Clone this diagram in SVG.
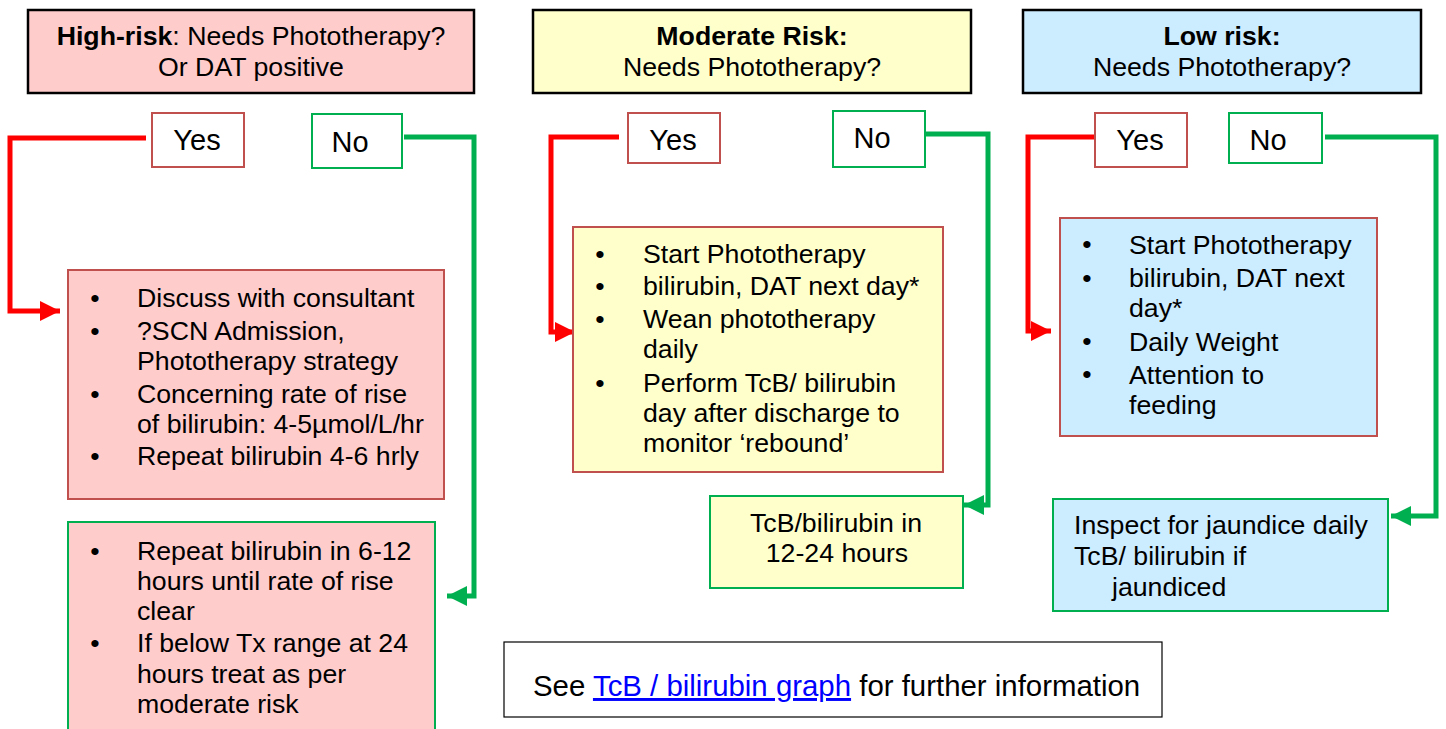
<svg xmlns="http://www.w3.org/2000/svg" width="1446" height="729" viewBox="0 0 1446 729">
<style>
text{font-family:"Liberation Sans",Arial,sans-serif;fill:#000;}
.t{font-size:26.7px;}
.yn{font-size:29px;}
.b{font-weight:bold;}
.hdr{stroke:#000;stroke-width:2.5;}
.rbox{stroke:#C0504D;stroke-width:2;}
.gbox{stroke:#00B050;stroke-width:2;}
.pink{fill:#FFCCCC;}
.yel{fill:#FFFFCC;}
.blue{fill:#CCECFF;}
.wh{fill:#FFFFFF;}
.red{fill:none;stroke:#FF0000;stroke-width:5;}
.grn{fill:none;stroke:#00B050;stroke-width:5;}
</style>
<defs>
<marker id="ar" markerUnits="userSpaceOnUse" markerWidth="20" markerHeight="20" viewBox="0 0 18 18" refX="18" refY="9" orient="auto">
<path d="M0,0 L18,9 L0,18 Z" fill="#FF0000"/>
</marker>
<marker id="ag" markerUnits="userSpaceOnUse" markerWidth="20" markerHeight="20" viewBox="0 0 18 18" refX="18" refY="9" orient="auto">
<path d="M0,0 L18,9 L0,18 Z" fill="#00B050"/>
</marker>
</defs>
<rect width="1446" height="729" fill="#FFFFFF"/>
<g id="connectors">
<path class="red" d="M146,138 H10 V311 H60" marker-end="url(#ar)"/>
<path class="grn" d="M404,137 H474 V596 H447" marker-end="url(#ag)"/>
<path class="red" d="M619,137 H551 V332 H575" marker-end="url(#ar)"/>
<path class="grn" d="M926,134 H988 V505 H964" marker-end="url(#ag)"/>
<path class="red" d="M1095,137 H1028 V331 H1051" marker-end="url(#ar)"/>
<path class="grn" d="M1325,137 H1436 V516 H1391" marker-end="url(#ag)"/>
</g>
<g id="high-header">
<rect class="hdr pink" x="28" y="10" width="446" height="83"/>
<text class="t" x="251" y="45" text-anchor="middle"><tspan class="b">High-risk</tspan>: Needs Phototherapy?</text>
<text class="t" x="251" y="76" text-anchor="middle">Or DAT positive</text>
</g>
<g id="high-yes">
<rect class="rbox wh" x="152" y="113" width="92" height="54"/>
<text class="yn" x="197" y="150" text-anchor="middle">Yes</text>
</g>
<g id="high-no">
<rect class="gbox wh" x="312" y="114" width="90" height="54"/>
<text class="yn" x="350" y="152" text-anchor="middle">No</text>
</g>
<g id="high-yes-action">
<rect class="rbox pink" x="68" y="270" width="376" height="229"/>
<text class="t" x="95" y="307" text-anchor="middle">•</text>
<text class="t" x="95" y="340" text-anchor="middle">•</text>
<text class="t" x="95" y="403" text-anchor="middle">•</text>
<text class="t" x="95" y="465" text-anchor="middle">•</text>
<text class="t" x="137" y="307">Discuss with consultant</text>
<text class="t" x="137" y="340">?SCN Admission,</text>
<text class="t" x="137" y="370">Phototherapy strategy</text>
<text class="t" x="137" y="403">Concerning rate of rise</text>
<text class="t" x="137" y="433">of bilirubin: 4-5µmol/L/hr</text>
<text class="t" x="137" y="465">Repeat bilirubin 4-6 hrly</text>
</g>
<g id="high-no-action">
<rect class="gbox pink" x="68" y="522" width="367" height="220"/>
<text class="t" x="95" y="560" text-anchor="middle">•</text>
<text class="t" x="95" y="652" text-anchor="middle">•</text>
<text class="t" x="137" y="560">Repeat bilirubin in 6-12</text>
<text class="t" x="137" y="590">hours until rate of rise</text>
<text class="t" x="137" y="620">clear</text>
<text class="t" x="137" y="652">If below Tx range at 24</text>
<text class="t" x="137" y="683">hours treat as per</text>
<text class="t" x="137" y="713">moderate risk</text>
</g>
<g id="moderate-header">
<rect class="hdr yel" x="533" y="10" width="438" height="83"/>
<text class="t b" x="752" y="45" text-anchor="middle">Moderate Risk:</text>
<text class="t" x="752" y="76" text-anchor="middle">Needs Phototherapy?</text>
</g>
<g id="moderate-yes">
<rect class="rbox wh" x="628" y="113" width="92" height="50"/>
<text class="yn" x="673" y="150" text-anchor="middle">Yes</text>
</g>
<g id="moderate-no">
<rect class="gbox wh" x="833" y="111" width="92" height="56"/>
<text class="yn" x="872" y="148" text-anchor="middle">No</text>
</g>
<g id="moderate-yes-action">
<rect class="rbox yel" x="573" y="227" width="370" height="245"/>
<text class="t" x="600" y="263" text-anchor="middle">•</text>
<text class="t" x="600" y="295" text-anchor="middle">•</text>
<text class="t" x="600" y="328" text-anchor="middle">•</text>
<text class="t" x="600" y="392" text-anchor="middle">•</text>
<text class="t" x="643" y="263">Start Phototherapy</text>
<text class="t" x="643" y="295">bilirubin, DAT next day*</text>
<text class="t" x="643" y="328">Wean phototherapy</text>
<text class="t" x="643" y="358">daily</text>
<text class="t" x="643" y="392">Perform TcB/ bilirubin</text>
<text class="t" x="643" y="422">day after discharge to</text>
<text class="t" x="643" y="452">monitor ‘rebound’</text>
</g>
<g id="moderate-no-action">
<rect class="gbox yel" x="710" y="496" width="253" height="92"/>
<text class="t" x="836" y="532" text-anchor="middle">TcB/bilirubin in</text>
<text class="t" x="837" y="562" text-anchor="middle">12-24 hours</text>
</g>
<g id="low-header">
<rect class="hdr blue" x="1023" y="10" width="398" height="83"/>
<text class="t b" x="1222" y="45" text-anchor="middle">Low risk:</text>
<text class="t" x="1222" y="76" text-anchor="middle">Needs Phototherapy?</text>
</g>
<g id="low-yes">
<rect class="rbox wh" x="1095" y="113" width="92" height="54"/>
<text class="yn" x="1140" y="150" text-anchor="middle">Yes</text>
</g>
<g id="low-no">
<rect class="gbox wh" x="1229" y="113" width="93" height="50"/>
<text class="yn" x="1268" y="150" text-anchor="middle">No</text>
</g>
<g id="low-yes-action">
<rect class="rbox blue" x="1060" y="218" width="317" height="218"/>
<text class="t" x="1087" y="253" text-anchor="middle">•</text>
<text class="t" x="1087" y="287" text-anchor="middle">•</text>
<text class="t" x="1087" y="350" text-anchor="middle">•</text>
<text class="t" x="1087" y="383" text-anchor="middle">•</text>
<text class="t" x="1129" y="254">Start Phototherapy</text>
<text class="t" x="1129" y="287">bilirubin, DAT next</text>
<text class="t" x="1129" y="317">day*</text>
<text class="t" x="1129" y="351">Daily Weight</text>
<text class="t" x="1129" y="384">Attention to</text>
<text class="t" x="1129" y="414">feeding</text>
</g>
<g id="low-no-action">
<rect class="gbox blue" x="1053" y="499" width="335" height="112"/>
<text class="t" x="1074" y="534">Inspect for jaundice daily</text>
<text class="t" x="1074" y="565">TcB/ bilirubin if</text>
<text class="t" x="1112" y="596">jaundiced</text>
</g>
<g id="see-graph">
<rect x="504" y="642" width="658" height="75" fill="#FFFFFF" stroke="#000" stroke-width="1.2"/>
<text x="533" y="696" style="font-size:29.4px">See <tspan fill="#0000FF" text-decoration="underline" style="fill:#0000FF">TcB / bilirubin graph</tspan> for further information</text>
</g>
</svg>
